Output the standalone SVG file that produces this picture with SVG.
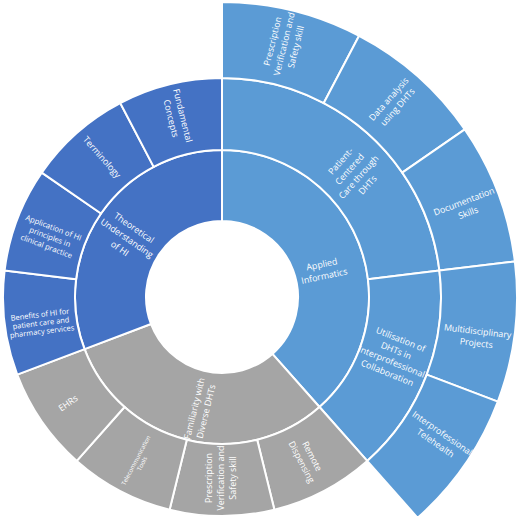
<svg xmlns="http://www.w3.org/2000/svg" width="520" height="520" viewBox="0 0 520 520">
<style>
.s{stroke:#fff;stroke-width:2;stroke-linejoin:round}
.db{fill:#4472C4}.lb{fill:#5B9BD5}.gr{fill:#A5A5A5}
.t{font-family:"Open Sans","Liberation Sans",sans-serif;font-size:8.9px;fill:#fff;text-anchor:middle}
</style>
<rect width="520" height="520" fill="#fff"/>
<g id="ring1">
<g id="applied-informatics">
<path class="s lb" d="M222,150 A147,147 0 0 1 319.48,407.03 L272.40,353.89 A76,76 0 0 0 222,221 Z"/>
<text class="t" transform="translate(323,270) rotate(-12)"><tspan x="0" y="-2.75">Applied</tspan><tspan x="0" y="9.25">Informatics</tspan></text>
</g>
<g id="familiarity">
<path class="s gr" d="M319.48,407.03 A147,147 0 0 1 84.55,349.13 L150.94,323.95 A76,76 0 0 0 272.40,353.89 Z"/>
<text class="t" transform="translate(200,410) rotate(-76.2)"><tspan x="0" y="-2.75">Familiarity with</tspan><tspan x="0" y="9.25">Diverse DHTs</tspan></text>
</g>
<g id="theoretical">
<path class="s db" d="M84.55,349.13 A147,147 0 0 1 222,150 L222,221 A76,76 0 0 0 150.94,323.95 Z"/>
<text class="t" transform="translate(127,238) rotate(34.6)"><tspan x="0" y="-9.25">Theoretical</tspan><tspan x="0" y="3.25">Understanding</tspan><tspan x="0" y="15.75">of HI</tspan></text>
</g>
</g>
<g id="ring2">
<g id="patient-centered">
<path class="s lb" d="M222,78 A219,219 0 0 1 439.40,270.60 L367.93,279.28 A147,147 0 0 0 222,150 Z"/>
<text class="t" transform="translate(354,173) rotate(-48.5)"><tspan x="0" y="-14.75">Patient-</tspan><tspan x="0" y="-2.75">Centered</tspan><tspan x="0" y="9.25">Care through</tspan><tspan x="0" y="21.25">DHTs</tspan></text>
</g>
<g id="utilisation">
<path class="s lb" d="M439.40,270.60 A219,219 0 0 1 367.22,460.92 L319.48,407.03 A147,147 0 0 0 367.93,279.28 Z"/>
<text class="t" transform="translate(394,356) rotate(22)"><tspan x="0" y="-14.75">Utilisation of</tspan><tspan x="0" y="-2.75">DHTs in</tspan><tspan x="0" y="9.25">Interprofessional</tspan><tspan x="0" y="21.25">Collaboration</tspan></text>
</g>
<g id="remote-dispensing">
<path class="s gr" d="M367.22,460.92 A219,219 0 0 1 274.41,509.64 L257.18,439.73 A147,147 0 0 0 319.48,407.03 Z"/>
<text class="t" transform="translate(307,459) rotate(62.3)"><tspan x="0" y="-2.75">Remote</tspan><tspan x="0" y="9.25">Dispensing</tspan></text>
</g>
<g id="prescription-gray">
<path class="s gr" d="M274.41,509.64 A219,219 0 0 1 169.59,509.64 L186.82,439.73 A147,147 0 0 0 257.18,439.73 Z"/>
<text class="t" transform="translate(221,478) rotate(-90)"><tspan x="0" y="-8.75">Prescription</tspan><tspan x="0" y="3.25">Verification and</tspan><tspan x="0" y="15.25">Safety skill</tspan></text>
</g>
<g id="telecommunication">
<path class="s gr" d="M169.59,509.64 A219,219 0 0 1 76.78,460.92 L124.52,407.03 A147,147 0 0 0 186.82,439.73 Z"/>
<text class="t" style="font-size:6px" transform="translate(139,462) rotate(-62.3)"><tspan x="0" y="-1.4">Telecommunication</tspan><tspan x="0" y="5.6">Tools</tspan></text>
</g>
<g id="ehrs">
<path class="s gr" d="M76.78,460.92 A219,219 0 0 1 17.23,374.66 L84.55,349.13 A147,147 0 0 0 124.52,407.03 Z"/>
<text class="t" transform="translate(68,403) rotate(-34.6)"><tspan x="0" y="3.25">EHRs</tspan></text>
</g>
<g id="benefits">
<path class="s db" d="M17.23,374.66 A219,219 0 0 1 4.60,270.60 L76.07,279.28 A147,147 0 0 0 84.55,349.13 Z"/>
<text class="t" style="font-size:7.5px" transform="translate(41,323) rotate(-7)"><tspan x="0" y="-5.9">Benefits of HI for</tspan><tspan x="0" y="2.6">patient care and</tspan><tspan x="0" y="11.1">pharmacy services</tspan></text>
</g>
<g id="application">
<path class="s db" d="M4.60,270.60 A219,219 0 0 1 41.77,172.59 L101.02,213.50 A147,147 0 0 0 76.07,279.28 Z"/>
<text class="t" style="font-size:7.7px" transform="translate(50,237) rotate(20.8)"><tspan x="0" y="-7.3">Application of HI</tspan><tspan x="0" y="2.7">principles in</tspan><tspan x="0" y="12.7">clinical practice</tspan></text>
</g>
<g id="terminology">
<path class="s db" d="M41.77,172.59 A219,219 0 0 1 120.23,103.08 L153.69,166.84 A147,147 0 0 0 101.02,213.50 Z"/>
<text class="t" transform="translate(102,157) rotate(48.6)"><tspan x="0" y="3.25">Terminology</tspan></text>
</g>
<g id="fundamental">
<path class="s db" d="M120.23,103.08 A219,219 0 0 1 222,78 L222,150 A147,147 0 0 0 153.69,166.84 Z"/>
<text class="t" transform="translate(177,117) rotate(76)"><tspan x="0" y="-2.75">Fundamental</tspan><tspan x="0" y="9.25">Concepts</tspan></text>
</g>
</g>
<g id="ring3">
<g id="prescription-top">
<path class="s lb" d="M222,2 A295,295 0 0 1 359.09,35.79 L323.77,103.08 A219,219 0 0 0 222,78 Z"/>
<text class="t" transform="translate(284,44) rotate(-76.2)"><tspan x="0" y="-8.75">Prescription</tspan><tspan x="0" y="3.25">Verification and</tspan><tspan x="0" y="15.25">Safety skill</tspan></text>
</g>
<g id="data-analysis">
<path class="s lb" d="M359.09,35.79 A295,295 0 0 1 464.78,129.42 L402.23,172.59 A219,219 0 0 0 323.77,103.08 Z"/>
<text class="t" transform="translate(393,103) rotate(-48.5)"><tspan x="0" y="-2.75">Data analysis</tspan><tspan x="0" y="9.25">using DHTs</tspan></text>
</g>
<g id="documentation">
<path class="s lb" d="M464.78,129.42 A295,295 0 0 1 514.85,261.44 L439.40,270.60 A219,219 0 0 0 402.23,172.59 Z"/>
<text class="t" transform="translate(466,207) rotate(-20.8)"><tspan x="0" y="-2.75">Documentation</tspan><tspan x="0" y="9.25">Skills</tspan></text>
</g>
<g id="multidisciplinary">
<path class="s lb" d="M514.85,261.44 A295,295 0 0 1 497.83,401.61 L426.77,374.66 A219,219 0 0 0 439.40,270.60 Z"/>
<text class="t" transform="translate(477,337) rotate(6.9)"><tspan x="0" y="-2.75">Multidisciplinary</tspan><tspan x="0" y="9.25">Projects</tspan></text>
</g>
<g id="telehealth">
<path class="s lb" d="M497.83,401.61 A295,295 0 0 1 417.62,517.81 L367.22,460.92 A219,219 0 0 0 426.77,374.66 Z"/>
<text class="t" transform="translate(439,438) rotate(34.6)"><tspan x="0" y="-2.75">Interprofessional</tspan><tspan x="0" y="9.25">Telehealth</tspan></text>
</g>
</g>
<g id="connectors"/>
</svg>
